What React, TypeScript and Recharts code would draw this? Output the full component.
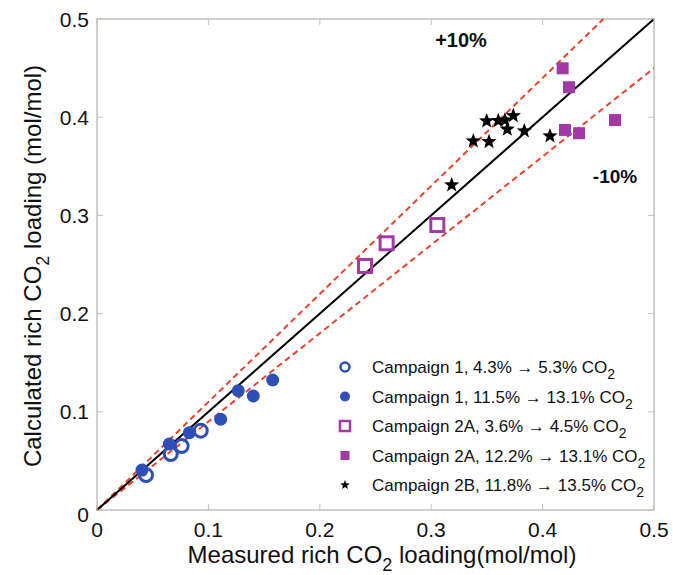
import React from 'react';
import {
  ComposedChart,
  Scatter,
  XAxis,
  YAxis,
  ReferenceLine,
  ReferenceArea,
  Customized,
} from 'recharts';

// measured (x) vs calculated (y) rich CO2 loading, mol/mol
const campaign1Low = [
  [0.044, 0.0356],
  [0.0662, 0.057],
  [0.076, 0.0652],
  [0.0931, 0.0808],
];
const campaign1High = [
  [0.0404, 0.0407],
  [0.0649, 0.0672],
  [0.0829, 0.0787],
  [0.111, 0.0924],
  [0.1268, 0.1215],
  [0.1403, 0.1161],
  [0.1577, 0.1324],
];
const campaign2ALow = [
  [0.2406, 0.2485],
  [0.26, 0.2716],
  [0.3055, 0.2902],
];
const campaign2AHigh = [
  [0.418, 0.4498],
  [0.4237, 0.4305],
  [0.4201, 0.387],
  [0.4327, 0.3837],
  [0.465, 0.3971],
];
const campaign2B = [
  [0.3184, 0.331],
  [0.3378, 0.3758],
  [0.3519, 0.375],
  [0.3498, 0.3961],
  [0.3602, 0.3964],
  [0.3662, 0.3971],
  [0.3737, 0.4015],
  [0.3683, 0.3877],
  [0.3836, 0.386],
  [0.4066, 0.3809],
];

const ticks = [0, 0.1, 0.2, 0.3, 0.4, 0.5];
const legendLabels = [
  ['Campaign 1, 4.3% \u2192 5.3% CO', '2'],
  ['Campaign 1, 11.5% \u2192 13.1% CO', '2'],
  ['Campaign 2A, 3.6% \u2192 4.5% CO', '2'],
  ['Campaign 2A, 12.2% \u2192 13.1% CO', '2'],
  ['Campaign 2B, 11.8% \u2192 13.5% CO', '2'],
];

const toPoints = (arr: number[][]) => arr.map(([x, y]) => ({ x, y }));

const W = 673;
const H = 575;
const PLOT_LEFT = 97;
const PLOT_RIGHT = 654;
const PLOT_TOP = 19;
const PLOT_BOTTOM = 510;

const FONT = '"Liberation Sans", Arial, Helvetica, sans-serif';
const FRAME = '#c4c0bc';
const BLUE = '#2d4fb6';
const PURPLE = '#a23aa6';
const RED = '#e8432b';

const OpenCircle = ({ cx, cy, r = 6.5, sw = 3 }: any) => (
  <circle cx={cx} cy={cy} r={r} fill="none" stroke={BLUE} strokeWidth={sw} />
);
const FilledCircle = ({ cx, cy, r = 6.5 }: any) => <circle cx={cx} cy={cy} r={r} fill={BLUE} />;
const OpenSquare = ({ cx, cy, h = 6.5, sw = 3 }: any) => (
  <rect x={cx - h} y={cy - h} width={2 * h} height={2 * h} fill="none" stroke={PURPLE} strokeWidth={sw} />
);
const FilledSquare = ({ cx, cy, h = 6 }: any) => (
  <rect x={cx - h} y={cy - h} width={2 * h} height={2 * h} fill={PURPLE} />
);
const Star = ({ cx, cy, r = 8 }: any) => {
  const pts: string[] = [];
  for (let i = 0; i < 10; i++) {
    const rad = i % 2 === 0 ? r : r * 0.42;
    const a = -Math.PI / 2 + (i * Math.PI) / 5;
    pts.push(`${cx + rad * Math.cos(a)},${cy + rad * Math.sin(a)}`);
  }
  return <polygon points={pts.join(' ')} fill="#000" />;
};

const XTick = ({ x, y, payload }: any) => (
  <g>
    <line x1={x} y1={PLOT_BOTTOM} x2={x} y2={PLOT_BOTTOM - 6} stroke={FRAME} />
    <line x1={x} y1={PLOT_TOP} x2={x} y2={PLOT_TOP + 6} stroke={FRAME} />
    <text x={x} y={y} dy={19} textAnchor="middle" fontSize={21} fontFamily={FONT} fill="#111">
      {String(payload.value)}
    </text>
  </g>
);

const YTick = ({ x, y, payload }: any) => (
  <g>
    <line x1={PLOT_LEFT} y1={y} x2={PLOT_LEFT + 6} y2={y} stroke={FRAME} />
    <line x1={PLOT_RIGHT} y1={y} x2={PLOT_RIGHT - 6} y2={y} stroke={FRAME} />
    <text x={x} y={y} dy={payload.value === 0 ? 4 : 0} textAnchor="end" dominantBaseline="central" fontSize={21} fontFamily={FONT} fill="#111">
      {String(payload.value)}
    </text>
  </g>
);

const legendMarkers = [
  (cx: number, cy: number) => <OpenCircle cx={cx} cy={cy} r={4.5} sw={2.5} />,
  (cx: number, cy: number) => <FilledCircle cx={cx} cy={cy} r={5} />,
  (cx: number, cy: number) => <OpenSquare cx={cx} cy={cy} h={5} sw={2.5} />,
  (cx: number, cy: number) => <FilledSquare cx={cx} cy={cy} h={4.5} />,
  (cx: number, cy: number) => <Star cx={cx} cy={cy} r={5} />,
];

const Annotations = () => (
  <g fontFamily={FONT} fill="#111">
    <text x={461} y={47} textAnchor="middle" fontSize={20} fontWeight="bold">+10%</text>
    <text x={615} y={183} textAnchor="middle" fontSize={19} fontWeight="bold">-10%</text>

    {/* axis titles */}
    <text x={382} y={563} textAnchor="middle" fontSize={24}>
      Measured rich CO
      <tspan dy={8} fontSize={18}>2</tspan>
      <tspan dy={-8}> loading(mol/mol)</tspan>
    </text>
    <text x={0} y={0} transform="translate(41,266) rotate(-90)" textAnchor="middle" fontSize={24}>
      Calculated rich CO
      <tspan dy={8} fontSize={18}>2</tspan>
      <tspan dy={-8}> loading (mol/mol)</tspan>
    </text>

    {/* legend */}
    {legendLabels.map(([label, sub], i) => {
      const cy = 367 + i * 29.5;
      return (
        <g key={label}>
          {legendMarkers[i](345, cy)}
          <text x={372} y={cy} dy={6} fontSize={17}>
            {label}
            <tspan dy={6} fontSize={14}>{sub}</tspan>
          </text>
        </g>
      );
    })}
  </g>
);

export default function App() {
  return (
    <div style={{ position: 'absolute', left: 0, top: 0, background: '#fff' }}>
      <ComposedChart
        width={W}
        height={H}
        margin={{ top: PLOT_TOP, right: W - PLOT_RIGHT, left: 0, bottom: 0 }}
      >
        <XAxis
          type="number"
          dataKey="x"
          domain={[0, 0.5]}
          ticks={ticks}
          allowDataOverflow
          axisLine={false}
          tickSize={0}
          tickMargin={8}
          height={H - PLOT_BOTTOM}
          tick={<XTick />}
        />
        <YAxis
          type="number"
          dataKey="y"
          domain={[0, 0.5]}
          ticks={ticks}
          allowDataOverflow
          axisLine={false}
          tickSize={0}
          tickMargin={8}
          width={PLOT_LEFT}
          tick={<YTick />}
        />
        <ReferenceArea x1={0} x2={0.5} y1={0} y2={0.5} fill="none" stroke={FRAME} strokeWidth={1.5} />
        <ReferenceLine segment={[{ x: 0, y: 0 }, { x: 0.5 / 1.1, y: 0.5 }]} stroke={RED} strokeWidth={2} strokeDasharray="6 4" />
        <ReferenceLine segment={[{ x: 0, y: 0 }, { x: 0.5, y: 0.45 }]} stroke={RED} strokeWidth={2} strokeDasharray="6 4" />
        <ReferenceLine segment={[{ x: 0, y: 0 }, { x: 0.5, y: 0.5 }]} stroke="#000" strokeWidth={2} />

        <Scatter data={toPoints(campaign1High)} shape={(p: any) => <FilledCircle cx={p.cx} cy={p.cy} />} isAnimationActive={false} />
        <Scatter data={toPoints(campaign1Low)} shape={(p: any) => <OpenCircle cx={p.cx} cy={p.cy} />} isAnimationActive={false} />
        <Scatter data={toPoints(campaign2ALow)} shape={(p: any) => <OpenSquare cx={p.cx} cy={p.cy} />} isAnimationActive={false} />
        <Scatter data={toPoints(campaign2AHigh)} shape={(p: any) => <FilledSquare cx={p.cx} cy={p.cy} />} isAnimationActive={false} />
        <Scatter data={toPoints(campaign2B)} shape={(p: any) => <Star cx={p.cx} cy={p.cy} />} isAnimationActive={false} />

        <Customized component={Annotations} />
      </ComposedChart>
    </div>
  );
}
